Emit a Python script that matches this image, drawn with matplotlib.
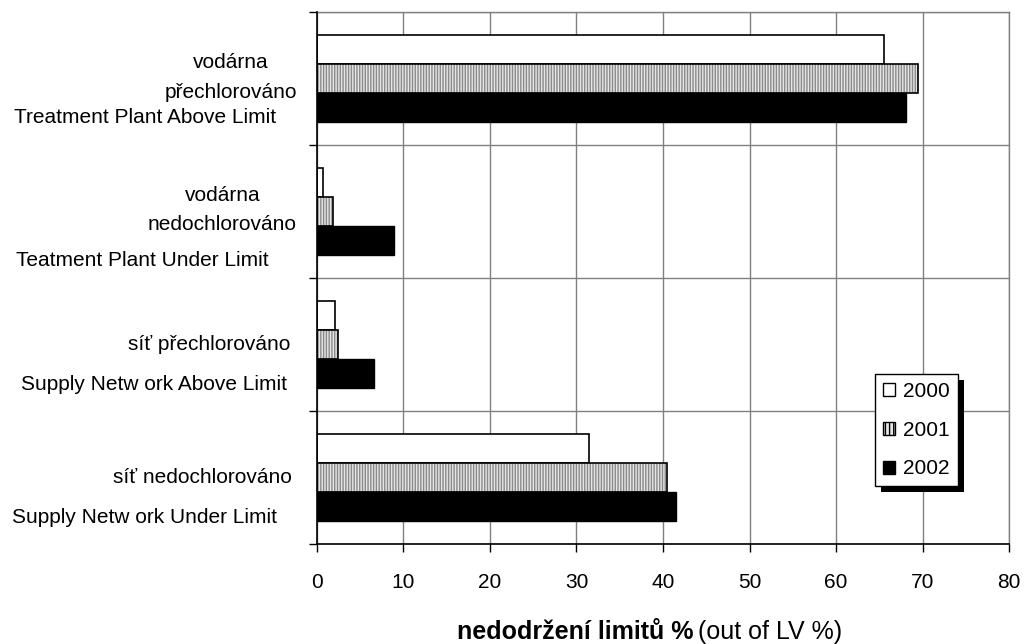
import matplotlib
matplotlib.use("Agg")
import matplotlib.pyplot as plt
import matplotlib.transforms as mtransforms
from matplotlib.patches import Rectangle, Patch
import numpy as np

plt.rcParams['font.family'] = ['Liberation Sans', 'DejaVu Sans']

# Categories (top to bottom), each label split into its printed lines
categories = [
    ["vodárna", "přechlorováno", "Treatment Plant Above Limit"],
    ["vodárna", "nedochlorováno", "Teatment Plant Under Limit"],
    ["síť přechlorováno", "Supply Netw ork Above Limit"],
    ["síť nedochlorováno", "Supply Netw ork Under Limit"],
]
years = ["2000", "2001", "2002"]
values_2000 = [65.5, 0.7, 2.1, 31.5]
values_2001 = [69.4, 1.9, 2.4, 40.5]
values_2002 = [68.1, 8.9, 6.6, 41.5]
x_ticks = [0, 10, 20, 30, 40, 50, 60, 70, 80]

FS = 15
W, H = 1024, 644
fig = plt.figure(figsize=(W / 100, H / 100), dpi=100)
ax_l, ax_r, ax_t, ax_b = 316.8, 1009.3, 12, 544
ax = fig.add_axes([ax_l / W, 1 - ax_b / H, (ax_r - ax_l) / W, (ax_b - ax_t) / H])

n = len(categories)
y = np.arange(n)
bh = 0.22
grid_c = '#808080'

# 2000: white bars
ax.barh(y - bh, values_2000, height=bh, color='white', edgecolor='black',
        linewidth=1.2, zorder=3)
# 2001: light grey with fine vertical hatching
ax.barh(y, values_2001, height=bh, color='#e6e6e6', edgecolor='#8a8a8a',
        hatch='||||||', linewidth=0, zorder=3)
ax.barh(y, values_2001, height=bh, fill=False, edgecolor='black',
        linewidth=1.2, zorder=4)
# 2002: solid black
ax.barh(y + bh, values_2002, height=bh, color='black', edgecolor='black',
        linewidth=1.0, zorder=3)

ax.set_xlim(0, 80)
ax.set_ylim(n - 0.5, -0.5)
ax.set_xticks(x_ticks)
ax.set_xticklabels([str(v) for v in x_ticks], fontsize=FS)
ax.set_yticks(np.arange(-0.5, n, 1.0))
ax.set_yticklabels([])
ax.tick_params(axis='x', direction='out', length=6, width=1, pad=15, colors='black')
ax.tick_params(axis='y', direction='out', length=6, width=1, colors='black')
ax.grid(True, color=grid_c, linewidth=1.0, zorder=0)
ax.set_axisbelow(True)
for side in ('top', 'right'):
    ax.spines[side].set_color(grid_c)
    ax.spines[side].set_linewidth(1.0)
for side in ('left', 'bottom'):
    ax.spines[side].set_color('black')
    ax.spines[side].set_linewidth(1.2)
    ax.spines[side].set_zorder(5)

# Category labels, line by line (x in pixels, y offset from category centre)
label_layout = [
    [(231, -0.124), (231, 0.102), (145, 0.29)],
    [(223, -0.124), (222, 0.10), (142, 0.365)],
    [(209, 0.0), (154, 0.30)],
    [(202, 0.0), (144, 0.30)],
]
trans = mtransforms.blended_transform_factory(ax.transAxes, ax.transData)
for i, (lines, layout) in enumerate(zip(categories, label_layout)):
    for text, (px, dy) in zip(lines, layout):
        ax.text((px - ax_l) / (ax_r - ax_l), i + dy, text, transform=trans,
                ha='center', va='center', fontsize=FS, clip_on=False)

# Axis title: bold Czech part followed by regular English part
t1 = fig.text(457 / W, 1 - 632 / H, "nedodržení limitů %", fontsize=18,
              fontweight='bold', ha='left', va='center')
fig.canvas.draw()
bb = t1.get_window_extent()
fig.text((bb.x1 + 5) / W, 1 - 632 / H, "(out of LV %)", fontsize=18,
         ha='left', va='center')

# Legend with a solid drop shadow
handles = [
    Patch(facecolor='white', edgecolor='black', linewidth=1.0),
    Patch(facecolor='#e6e6e6', edgecolor='black', hatch='||||', linewidth=1.0),
    Patch(facecolor='black', edgecolor='black', linewidth=1.0),
]
leg = ax.legend(handles, years, loc='upper left',
                bbox_to_anchor=(875 / W, 1 - 374 / H), bbox_transform=fig.transFigure,
                fontsize=FS, frameon=True, fancybox=False, borderpad=0.38,
                handlelength=0.6, handleheight=0.6, handletextpad=0.38,
                labelspacing=0.95, borderaxespad=0, framealpha=1)
leg.get_frame().set_edgecolor('black')
leg.get_frame().set_linewidth(1.0)
leg.set_zorder(10)
fig.canvas.draw()
lb = leg.get_window_extent()
shadow = Rectangle((lb.x0 + 6, lb.y0 - 6), lb.width, lb.height,
                   transform=None, facecolor='black', edgecolor='none',
                   zorder=9, clip_on=False)
ax.add_artist(shadow)

fig.savefig("out.png", dpi=100)
